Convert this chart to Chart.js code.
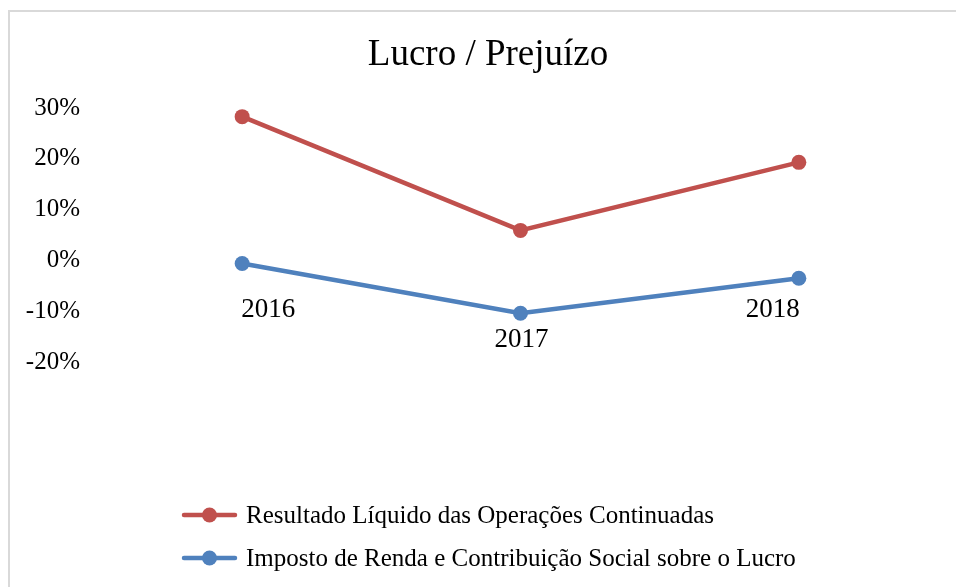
<!DOCTYPE html>
<html>
<head>
<meta charset="utf-8">
<script src="https://cdn.jsdelivr.net/npm/chart.js@4"></script>
<style>
  html, body { margin: 0; padding: 0; background: #fff; overflow: hidden; }
  #frame { position: absolute; left: 8px; top: 10px; width: 1000px; height: 1000px; border: 2px solid #d9d9d9; }
  #wrap { position: absolute; left: 0; top: 0; width: 956px; height: 587px; }
</style>
</head>
<body>
<div id="frame"></div>
<div id="wrap"><canvas id="lucroChart"></canvas></div>
<script>
// data
const years = ["2016", "2017", "2018"];
const resultadoLiquido = [28.3, 5.9, 19.3];
const impostoRenda = [-0.6, -10.4, -3.5];
const yTicks = [-20, -10, 0, 10, 20, 30];
const chartTitle = "Lucro / Prejuízo";
const seriesNames = [
  "Resultado Líquido das Operações Continuadas",
  "Imposto de Renda e Contribuição Social sobre o Lucro"
];

const SERIF = "'Liberation Serif', 'Times New Roman', serif";
const RED = "#C0504D";
const BLUE = "#4F81BD";

// year labels sit under the zero line, Excel style (2017 pushed down)
const labelOffsets = [{ dx: 26, dy: 50 }, { dx: 1, dy: 80 }, { dx: -26, dy: 50 }];

const extrasPlugin = {
  id: "extras",
  afterDraw(chart) {
    const c = chart.ctx;
    const xs = chart.scales.x;
    const ys = chart.scales.y;
    c.save();
    c.fillStyle = "#000";

    // title
    c.font = "37px " + SERIF;
    c.textAlign = "center";
    c.textBaseline = "middle";
    c.fillText(chartTitle, 488, 55);

    // category labels
    c.font = "27px " + SERIF;
    const zero = ys.getPixelForValue(0);
    years.forEach((y, i) => {
      const o = labelOffsets[i];
      c.fillText(y, xs.getPixelForValue(i) + o.dx, zero + o.dy);
    });

    // legend
    c.font = "25px " + SERIF;
    c.textAlign = "left";
    chart.data.datasets.forEach((ds, i) => {
      const ly = 515 + i * 43;
      c.strokeStyle = ds.borderColor;
      c.lineWidth = 4.5;
      c.lineCap = "round";
      c.beginPath();
      c.moveTo(184, ly);
      c.lineTo(235, ly);
      c.stroke();
      c.fillStyle = ds.borderColor;
      c.beginPath();
      c.arc(209.5, ly, 7.5, 0, Math.PI * 2);
      c.fill();
      c.fillStyle = "#000";
      c.fillText(ds.label, 246, ly + 1);
    });
    c.restore();
  }
};

new Chart(document.getElementById("lucroChart"), {
  type: "line",
  data: {
    labels: years,
    datasets: [
      {
        label: seriesNames[0],
        data: resultadoLiquido,
        borderColor: RED,
        backgroundColor: RED,
        borderWidth: 4.5,
        pointRadius: 7.5,
        pointHoverRadius: 7.5,
        pointBorderWidth: 0,
        tension: 0
      },
      {
        label: seriesNames[1],
        data: impostoRenda,
        borderColor: BLUE,
        backgroundColor: BLUE,
        borderWidth: 4.5,
        pointRadius: 7.5,
        pointHoverRadius: 7.5,
        pointBorderWidth: 0,
        tension: 0
      }
    ]
  },
  options: {
    responsive: true,
    maintainAspectRatio: false,
    animation: false,
    layout: { padding: { left: 0, right: 18, top: 108, bottom: 225 } },
    plugins: {
      legend: { display: false },
      title: { display: false },
      tooltip: { enabled: false }
    },
    scales: {
      x: {
        display: false,
        offset: true
      },
      y: {
        min: yTicks[0],
        max: yTicks[yTicks.length - 1],
        afterFit(s) { s.width = 103; },
        grid: { display: false, drawTicks: false },
        border: { display: false },
        afterBuildTicks(s) { s.ticks = yTicks.map(v => ({ value: v })); },
        ticks: {
          padding: 23,
          color: "#000",
          font: { family: SERIF, size: 25 },
          callback: v => v + "%"
        }
      }
    }
  },
  plugins: [extrasPlugin]
});
</script>
</body>
</html>
